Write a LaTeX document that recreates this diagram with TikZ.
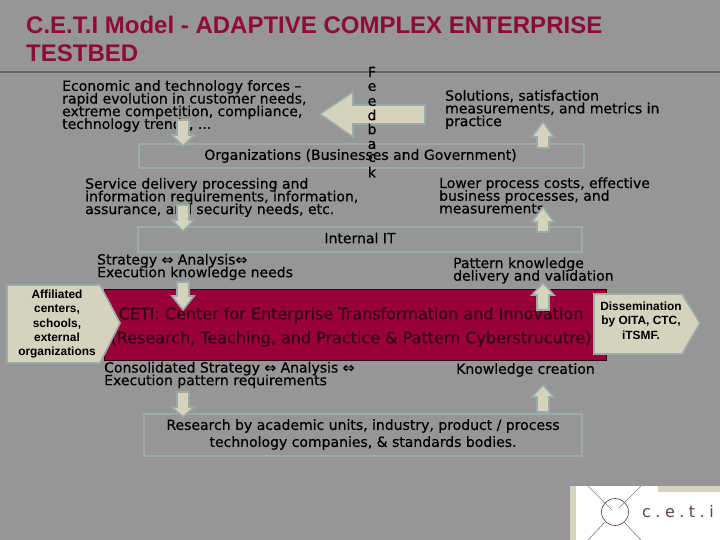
\documentclass[tikz,border=0pt]{standalone}
\usepackage{fontspec}
\setmainfont[FakeBold=0.45]{DejaVu Sans}
\newfontfamily\arialfont{Liberation Sans}
\newfontfamily\logofont[LetterSpace=28]{DejaVu Sans}
\lineskiplimit=-20pt\relax
\definecolor{bgc}{HTML}{969696}
\definecolor{edgec}{HTML}{9BABA6}
\definecolor{creamc}{HTML}{D5D2BD}
\definecolor{redc}{HTML}{99003A}
\definecolor{titlec}{HTML}{8F0A3A}
\definecolor{rulec}{HTML}{666666}
\definecolor{redtext}{HTML}{300014}
\tikzset{
  x=1pt,y=-1pt,
  framebox/.style={draw=edgec,line width=2pt},
  blockarr/.style={fill=creamc,draw=edgec,line width=1.6pt,line join=miter},
  body/.style={anchor=west,inner sep=0pt,align=left,font=\fontsize{14}{12.7}\selectfont,text=black},
  centred/.style={anchor=center,inner sep=0pt,align=center,font=\fontsize{14}{17}\selectfont,text=black},
  ceti/.style={anchor=center,inner sep=0pt,font=\fontsize{16}{17}\selectfont,text=redtext},
  small/.style={anchor=center,inner sep=0pt,align=center,font=\arialfont\bfseries\fontsize{11.9}{14.4}\selectfont,text=black},
  feed/.style={anchor=center,inner sep=0pt,font=\fontsize{14}{13}\selectfont,text=black},
}
\newcommand{\dnarr}[4]{\draw[blockarr] ({#1-6},#2) -- ({#1+6},#2) -- ({#1+6},#3) -- ({#1+11},#3) -- (#1,#4) -- ({#1-11},#3) -- ({#1-6},#3) -- cycle;}
\newcommand{\uparr}[4]{\draw[blockarr] ({#1-6},#2) -- ({#1+6},#2) -- ({#1+6},#3) -- ({#1+11},#3) -- (#1,#4) -- ({#1-11},#3) -- ({#1-6},#3) -- cycle;}
\begin{document}
\begin{tikzpicture}
\useasboundingbox (0,0) rectangle (720,540);
\fill[bgc] (0,0) rectangle (720,540);
% rule and title
\draw[rulec,line width=1.4pt] (0,72) -- (720,72);
\node[anchor=west,inner sep=0pt,text=titlec,font=\arialfont\bfseries\fontsize{24}{28}\selectfont] (title1) at (26,25) {C.E.T.I Model - ADAPTIVE COMPLEX ENTERPRISE};
\node[anchor=west,inner sep=0pt,text=titlec,font=\arialfont\bfseries\fontsize{24}{28}\selectfont] (title2) at (26,53) {TESTBED};
% frames
\draw[framebox] (139,144) rectangle (584,168);
\draw[framebox] (138,227) rectangle (582,252);
\draw[framebox] (144,414) rectangle (582,456);
\fill[redc,draw=black!70!redc,line width=.8pt] (104,289) rectangle (606,360);
% texts
\node[body] (econ) at (62,106) {Economic and technology forces --\\rapid evolution in customer needs,\\extreme competition, compliance,\\technology trends, ...};
\node[body] (sol) at (445,109.5) {Solutions, satisfaction\\measurements, and metrics in\\practice};
\node[centred] (org) at (360.5,156) {Organizations (Businesses and Government)};
\node[body] (serv) at (85,197.5) {Service delivery processing and\\information requirements, information,\\assurance, and security needs, etc.};
\node[body] (low) at (439,195.5) {Lower process costs, effective\\business processes, and\\measurements};
\node[centred] (iit) at (360,238) {Internal IT};
\node[body] (strat) at (97,267) {Strategy ⇔ Analysis⇔\\Execution  knowledge needs};
\node[body] (patt) at (453,270.5) {Pattern knowledge\\delivery and validation};
\node[ceti] (ceti1) at (351,315) {CETI: Center for Enterprise Transformation and Innovation};
\node[ceti] (ceti2) at (351,339) {(Research, Teaching, and Practice \& Pattern Cyberstrucutre)};
\node[body] (cons) at (104,375) {Consolidated Strategy ⇔ Analysis ⇔\\Execution pattern requirements};
\node[body] (know) at (456,370) {Knowledge creation};
\node[centred] (res) at (363,434.5) {Research by academic units, industry, product / process\\technology companies, \& standards bodies.};
% block arrows
\dnarr{183}{120}{135}{146}
\dnarr{183}{205}{220}{231}
\dnarr{183}{282}{296}{310}
\dnarr{183}{392}{407}{417}
\uparr{543}{148}{137}{122}
\uparr{543}{232}{222}{207}
\uparr{543}{310}{295}{283}
\uparr{543}{412}{397}{385}
\draw[blockarr] (425,105) -- (353,105) -- (353,92) -- (320,114) -- (353,137) -- (353,124) -- (425,124) -- cycle;
% side pentagons
\draw[blockarr] (7,285) -- (100,285) -- (120,323) -- (100,363) -- (7,363) -- cycle;
\node[small] (aff) at (57,324) {Affiliated\\centers,\\schools,\\external\\organizations};
\draw[blockarr] (594,294) -- (682,294) -- (700,323) -- (682,354) -- (594,354) -- cycle;
\node[small] (diss) at (641,320.5) {Dissemination\\by OITA, CTC,\\iTSMF.};
% feedback letters
\node[feed] at (372,72) {F};
\node[feed] at (372,87) {e};
\node[feed] at (372,102) {e};
\node[feed] at (372,115) {d};
\node[feed] at (372,129) {b};
\node[feed] at (372,145) {a};
\node[feed] at (372,158) {c};
\node[feed] at (372,172) {k};
% logo
\fill[creamc] (570,486) rectangle (720,540);
\fill[white] (576,486) rectangle (658,492);
\fill[white] (576,492) rectangle (720,540);
\draw[gray,line width=.6pt] (588,486) -- (612,510);
\draw[gray,line width=.6pt] (641,486) -- (619,508);
\draw[gray,line width=.6pt] (588,540) -- (605,522);
\draw[gray,line width=.6pt] (641,540) -- (624,522);
\draw[redtext!70!white,line width=.7pt] (615,512) circle (13.5);
\node[anchor=west,inner sep=0pt,text=redtext!75!white,font=\logofont\fontsize{16}{16}\selectfont] (logo) at (642,512) {c.e.t.i};
\end{tikzpicture}
\end{document}
